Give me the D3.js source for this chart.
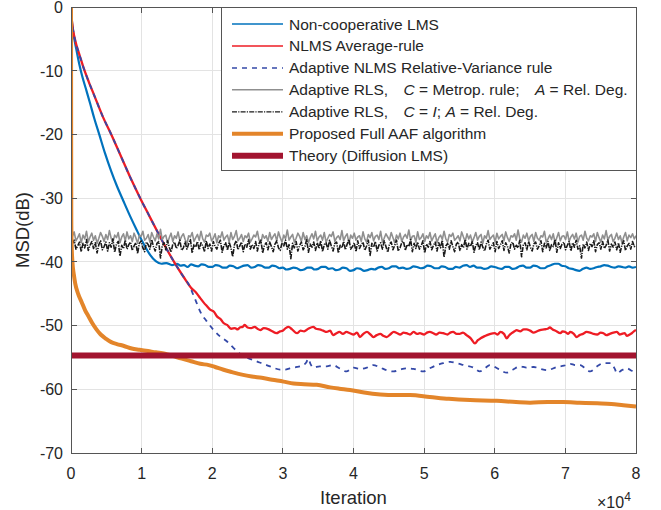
<!DOCTYPE html>
<html><head><meta charset="utf-8">
<script src="https://cdn.jsdelivr.net/npm/d3@7"></script>
<style>
body{margin:0;background:#fff}
svg{display:block}
text{font-family:"Liberation Sans",Arial,Helvetica,sans-serif;fill:#262626}
</style>
</head><body>
<svg id="chart" width="661" height="510"></svg>
<script>
// ---------- data (iteration in units of 1e4, MSD in dB) ----------
const xTicks = [0,1,2,3,4,5,6,7,8];
const yTicks = [0,-10,-20,-30,-40,-50,-60,-70];
const xTickLabels = ["0","1","2","3","4","5","6","7","8"];
const yTickLabels = ["0","-10","-20","-30","-40","-50","-60","-70"];

const legendLabels = [
  "Non-cooperative LMS",
  "NLMS Average-rule",
  "Adaptive NLMS Relative-Variance rule",
  "Adaptive RLS,   C = Metrop. rule;   A = Rel. Deg.",
  "Adaptive RLS,   C = I; A = Rel. Deg.",
  "Proposed Full AAF algorithm",
  "Theory (Diffusion LMS)"
];

const nonCoopLMS = [[0,0],[0.01,-1.8],[0.025,-3.4],[0.05,-5.2],[0.08,-6.9],[0.12,-9.1],[0.16,-10.9],[0.21,-12.8],[0.27,-15.1],[0.33,-17.5],[0.4,-20],[0.48,-22.9],[0.57,-25.8],[0.65,-28.1],[0.74,-30.4],[0.84,-32.9],[0.93,-35],[1.02,-37],[1.12,-38.9],[1.2,-39.9],[1.28,-40.3],[1.35,-40.2],[1.43,-40.5],
[1.5,-40.3],[1.55,-40.6],[1.6,-40.5],[1.65,-40.8],[1.7,-40.4],[1.75,-40.6],[1.8,-40.7],[1.85,-40.4],[1.9,-40.5],[1.95,-40.8],[2.0,-40.8],[2.05,-40.5],[2.1,-40.6],[2.15,-40.9],[2.2,-40.9],[2.25,-40.6],[2.3,-40.7],[2.35,-41.0],[2.4,-40.8],[2.45,-40.6],[2.5,-40.5],[2.55,-40.9],[2.6,-40.8],[2.65,-40.5],[2.7,-40.6],[2.75,-40.9],[2.8,-40.9],[2.85,-40.6],[2.9,-40.7],[2.95,-41.0],[3.0,-40.9],[3.05,-41.2],[3.1,-41.1],[3.15,-40.9],[3.2,-41.0],[3.25,-41.3],[3.3,-41.2],[3.35,-40.9],[3.4,-40.9],[3.45,-41.2],[3.5,-41.1],[3.55,-40.8],[3.6,-40.8],[3.65,-41.1],[3.7,-41.0],[3.75,-41.3],[3.8,-41.2],[3.85,-40.9],[3.9,-41.0],[3.95,-41.4],[4.0,-41.3],[4.05,-41.0],[4.1,-41.1],[4.15,-41.4],[4.2,-41.3],[4.25,-41.1],[4.3,-41.2],[4.35,-40.9],[4.4,-40.8],[4.45,-41.1],[4.5,-41.0],[4.55,-40.7],[4.6,-40.7],[4.65,-41.0],[4.7,-40.9],[4.75,-41.1],[4.8,-41.0],[4.85,-40.7],[4.9,-40.8],[4.95,-41.0],[5.0,-40.9],[5.05,-40.6],[5.1,-40.7],[5.15,-41.0],[5.2,-41.0],[5.25,-40.7],[5.3,-40.8],[5.35,-41.1],[5.4,-41.1],[5.45,-40.8],[5.5,-40.9],[5.55,-40.6],[5.6,-40.5],[5.65,-40.8],[5.7,-40.6],[5.75,-40.9],[5.8,-40.9],[5.85,-41.1],[5.9,-41.0],[5.95,-40.7],[6.0,-40.8],[6.05,-41.0],[6.1,-41.1],[6.15,-40.8],[6.2,-40.8],[6.25,-41.1],[6.3,-41.0],[6.35,-40.7],[6.4,-40.6],[6.45,-40.9],[6.5,-40.9],[6.55,-40.6],[6.6,-40.7],[6.65,-41.0],[6.7,-41.0],[6.75,-40.7],[6.8,-40.5],[6.85,-40.3],[6.9,-40.3],[6.95,-40.6],[7.0,-40.7],[7.05,-41.0],[7.1,-41.1],[7.15,-41.3],[7.2,-41.4],[7.25,-41.1],[7.3,-40.9],[7.35,-41.1],[7.4,-41.0],[7.45,-40.8],[7.5,-40.7],[7.55,-40.5],[7.6,-40.6],[7.65,-40.8],[7.7,-40.9],[7.75,-40.7],[7.8,-40.8],[7.85,-40.9],[7.9,-40.7],[7.95,-40.9],[8.0,-40.8]];

const nlmsAverage = [[0,0],[0.01,-1.8],[0.025,-3.3],[0.05,-4.8],[0.08,-6.1],[0.12,-7.5],[0.18,-9.6],[0.25,-11.7],[0.33,-13.9],[0.45,-17.2],[0.57,-20],[0.71,-23.5],[0.85,-27],[0.98,-30],[1.1,-32.6],[1.23,-35.4],[1.35,-37.9],[1.47,-40.2],[1.59,-42.3],[1.71,-44.2],[1.77,-44.8],[1.83,-45.7],[1.88,-46.4],[1.92,-46.9],[1.97,-47.5],[2.02,-47.8],[2.07,-48.6],[2.12,-49.0],[2.16,-49.6],[2.21,-49.9],[2.27,-50.5],[2.32,-50.4],[2.36,-50.6],[2.39,-50.3],[2.43,-50.2],[2.46,-49.9],[2.5,-50.3],[2.55,-50.4],[2.6,-50.2],[2.64,-50.5],[2.68,-50.7],[2.73,-50.4],[2.8,-50.6],[2.85,-50.9],[2.91,-51.2],[2.96,-50.9],[3.0,-50.8],[3.04,-50.4],[3.08,-50.2],[3.13,-50.6],[3.2,-51.2],[3.25,-50.8],[3.3,-50.9],[3.36,-50.5],[3.43,-50.2],[3.47,-50.5],[3.52,-50.6],[3.57,-50.8],[3.62,-51.0],[3.67,-50.8],[3.71,-51.5],[3.76,-51.2],[3.8,-51.0],[3.85,-51.3],[3.9,-51.0],[3.95,-51.2],[4.0,-51.4],[4.05,-51.1],[4.09,-51.8],[4.14,-51.3],[4.19,-51.0],[4.24,-51.4],[4.28,-51.8],[4.33,-51.5],[4.38,-51.3],[4.42,-51.6],[4.47,-51.8],[4.52,-51.4],[4.57,-51.0],[4.62,-51.2],[4.66,-51.4],[4.71,-51.1],[4.75,-51.2],[4.8,-51.4],[4.85,-51.0],[4.9,-51.3],[4.94,-51.2],[5.0,-51.4],[5.04,-51.1],[5.08,-51.0],[5.13,-51.2],[5.17,-51.4],[5.22,-51.1],[5.27,-51.2],[5.33,-51.4],[5.37,-51.1],[5.41,-51.0],[5.46,-51.3],[5.5,-51.3],[5.55,-51.1],[5.6,-51.5],[5.66,-52.0],[5.72,-52.8],[5.76,-52.3],[5.8,-52.0],[5.85,-51.7],[5.89,-51.5],[5.94,-51.3],[6.0,-51.2],[6.04,-51.4],[6.08,-51.0],[6.13,-51.3],[6.17,-52.0],[6.2,-51.6],[6.24,-51.2],[6.28,-50.9],[6.31,-50.7],[6.36,-50.9],[6.41,-50.6],[6.45,-50.6],[6.5,-50.8],[6.55,-51.1],[6.6,-50.9],[6.64,-50.7],[6.7,-50.6],[6.75,-50.5],[6.78,-50.3],[6.82,-50.6],[6.86,-50.8],[6.93,-51.2],[6.96,-50.9],[7.0,-51.0],[7.04,-51.3],[7.07,-51.0],[7.12,-51.3],[7.16,-51.8],[7.2,-51.5],[7.25,-51.3],[7.3,-51.0],[7.35,-51.1],[7.4,-51.3],[7.45,-51.4],[7.5,-51.1],[7.54,-51.2],[7.58,-51.5],[7.63,-51.3],[7.68,-51.1],[7.73,-51.0],[7.77,-51.4],[7.8,-51.3],[7.84,-51.2],[7.87,-51.6],[7.91,-51.4],[7.94,-51.2],[7.97,-50.9],[8.0,-50.7]];

const nlmsRelVar = [[0,0],[0.01,-1.8],[0.025,-3.3],[0.05,-4.8],[0.08,-6.1],[0.12,-7.5],[0.18,-9.6],[0.25,-11.7],[0.33,-13.9],[0.45,-17.2],[0.57,-20],[0.71,-23.5],[0.85,-27],[0.98,-30],[1.1,-32.6],[1.23,-35.4],[1.35,-37.9],[1.47,-40.2],[1.59,-42.3],[1.66,-43.4],[1.71,-44.6],[1.77,-46.2],[1.83,-47.8],[1.92,-49.3],[2.02,-50.7],[2.11,-51.7],[2.21,-52.5],[2.3,-53.5],[2.39,-54.4],[2.48,-55.0],[2.58,-55.4],[2.67,-55.8],[2.77,-56.2],[2.86,-56.6],[2.96,-56.9],[3.03,-56.9],[3.1,-56.7],[3.2,-56.5],[3.29,-56.2],[3.33,-55.8],[3.36,-55.2],[3.39,-56.0],[3.43,-56.6],[3.52,-56.4],[3.62,-56.4],[3.71,-56.2],[3.8,-56.7],[3.9,-57.2],[4.0,-56.6],[4.1,-56.8],[4.19,-56.6],[4.28,-56.2],[4.38,-56.6],[4.47,-57.0],[4.57,-57.2],[4.66,-56.9],[4.75,-56.7],[4.85,-56.8],[4.99,-57.2],[5.08,-56.7],[5.18,-56.2],[5.27,-55.9],[5.37,-55.7],[5.46,-55.9],[5.56,-56.2],[5.7,-56.6],[5.79,-57.2],[5.86,-56.7],[5.93,-56.2],[6.05,-56.8],[6.17,-57.4],[6.26,-56.9],[6.36,-56.4],[6.45,-56.6],[6.55,-56.5],[6.65,-56.8],[6.74,-57.0],[6.88,-56.5],[6.98,-56.3],[7.07,-56.0],[7.14,-56.2],[7.21,-56.2],[7.28,-56.7],[7.35,-57.2],[7.45,-56.4],[7.54,-55.9],[7.64,-55.9],[7.7,-56.8],[7.73,-57.5],[7.8,-57.0],[7.87,-56.7],[7.94,-57.1],[8.0,-57.4]];

// RLS curves: sampled uniformly from rlsStart to 8 (x1e4)
const rlsStart = 0.02, rlsStep = 0.02494;
const rlsMetrop = [
-36.0,-35.3,-36.7,-36.2,-35.6,-37.0,-35.8,-36.4,-35.2,-36.9,-36.1,-35.5,-36.6,-35.9,-37.1,-36.3,-35.4,-36.0,-36.8,-35.7,
-36.5,-35.1,-36.3,-36.9,-35.8,-36.2,-35.4,-37.0,-36.1,-35.6,-36.7,-35.3,-36.4,-35.9,-36.8,-35.5,-36.2,-37.1,-35.8,-36.0,
-35.2,-36.6,-36.3,-35.7,-36.9,-35.4,-36.1,-36.7,-35.6,-36.4,-34.9,-36.5,-36.0,-35.8,-37.0,-36.2,-35.5,-36.8,-35.9,-36.3,
-35.3,-36.7,-36.0,-35.6,-36.5,-37.2,-35.9,-36.1,-35.4,-36.8,-36.2,-35.7,-36.6,-35.2,-36.4,-36.9,-35.8,-36.0,-35.5,-36.7,
-36.3,-35.6,-37.0,-35.9,-36.2,-35.3,-36.6,-36.1,-35.8,-36.9,-35.4,-36.5,-36.0,-35.1,-36.7,-36.3,-35.7,-36.8,-35.9,-36.2,
-35.5,-36.9,-36.4,-35.8,-36.1,-35.2,-36.6,-37.1,-35.7,-36.3,-35.9,-36.8,-35.4,-36.5,-36.0,-35.6,-36.7,-35.3,-36.2,-36.9,
-35.8,-36.4,-35.0,-36.6,-36.1,-35.7,-36.9,-36.3,-35.5,-36.0,-36.8,-35.4,-36.5,-35.9,-37.0,-36.2,-35.6,-36.4,-35.2,-36.7,
-36.1,-35.8,-36.6,-35.4,-36.9,-36.3,-35.7,-36.0,-35.3,-36.8,-36.2,-35.9,-36.5,-35.1,-36.7,-36.0,-35.6,-37.1,-35.8,-36.3,
-35.5,-36.6,-36.1,-35.9,-36.8,-35.3,-36.4,-36.9,-35.7,-36.2,-35.4,-36.7,-36.0,-35.8,-36.5,-35.2,-36.9,-36.3,-35.6,-36.1,
-36.6,-35.4,-36.2,-37.0,-35.8,-36.4,-35.5,-36.8,-36.1,-35.7,-36.3,-35.0,-36.6,-36.0,-35.9,-36.9,-35.3,-36.5,-36.2,-35.6,
-36.8,-35.9,-36.3,-35.4,-36.7,-36.1,-35.6,-37.0,-36.2,-35.8,-36.5,-35.2,-36.4,-36.9,-35.7,-36.0,-35.5,-36.6,-36.3,-35.9,
-36.7,-35.3,-36.1,-36.8,-35.6,-36.4,-35.8,-36.9,-36.2,-35.4,-36.6,-36.0,-35.7,-37.1,-35.9,-36.3,-35.1,-36.5,-36.1,-35.8,
-36.9,-35.5,-36.4,-36.0,-35.7,-36.7,-35.3,-36.2,-36.8,-35.9,-36.1,-35.6,-36.6,-35.0,-36.4,-36.9,-35.8,-36.3,-35.5,-36.7,
-36.0,-35.7,-36.8,-35.4,-36.3,-36.6,-35.9,-36.1,-35.2,-36.9,-36.4,-35.8,-36.5,-35.6,-37.0,-36.2,-35.4,-36.7,-36.0,-35.9,
-36.5,-35.3,-36.8,-36.1,-35.7,-36.4,-35.5,-36.9,-36.0,-35.8,-36.6,-35.2,-36.3,-36.7,-35.9,-36.1,-35.6,-36.8,-35.4,-36.2,
-36.9,-35.8,-36.4,-35.1,-36.6,-36.0,-35.7,-36.8,-36.3,-35.5,-36.5,-35.9,-37.0,-36.1,-35.4,-36.7,-35.8,-36.2,-35.6,-36.4,
-35.9];
const rlsIdentity = [
-37.2,-36.6,-38.0,-37.5,-36.9,-38.4,-37.1,-37.8,-36.5,-38.2,-37.4,-36.8,-37.9,-37.0,-38.6,-37.3,-36.7,-38.1,-37.6,-36.9,
-38.3,-37.0,-37.7,-36.4,-38.5,-37.2,-36.8,-39.1,-37.4,-37.9,-36.6,-38.0,-37.3,-36.9,-38.2,-37.5,-37.0,-38.7,-37.1,-36.7,
-37.8,-38.4,-36.9,-37.3,-38.0,-36.5,-37.6,-38.3,-37.1,-36.8,-39.4,-37.5,-37.0,-38.1,-36.7,-37.7,-38.5,-37.2,-36.9,-37.9,
-37.4,-36.6,-38.2,-37.8,-36.9,-38.0,-37.2,-36.5,-38.6,-37.3,-37.7,-36.8,-38.1,-37.0,-37.5,-38.4,-36.7,-37.9,-37.2,-38.3,
-36.8,-37.6,-38.0,-37.1,-36.6,-38.5,-37.4,-37.0,-38.2,-36.9,-37.8,-39.2,-37.3,-36.7,-38.1,-37.5,-36.9,-38.4,-37.2,-37.7,
-36.5,-38.0,-37.3,-37.9,-36.8,-38.3,-37.1,-36.6,-38.6,-37.4,-37.0,-38.1,-36.9,-37.6,-38.4,-37.2,-36.7,-37.8,-38.2,-37.0,
-37.5,-36.6,-38.0,-37.3,-39.5,-37.1,-37.8,-36.8,-38.3,-37.4,-36.9,-38.1,-37.6,-36.5,-38.5,-37.2,-37.7,-36.9,-38.2,-37.0,
-37.9,-36.7,-38.4,-37.3,-37.0,-38.0,-36.6,-37.5,-38.3,-37.1,-36.9,-38.6,-37.4,-37.8,-36.8,-38.1,-37.2,-36.5,-38.0,-37.6,
-37.0,-38.4,-36.7,-37.9,-37.3,-36.9,-38.2,-37.5,-36.6,-39.0,-37.1,-37.7,-36.8,-38.3,-37.4,-37.0,-38.0,-36.7,-37.6,-38.5,
-37.2,-36.9,-38.1,-37.4,-36.6,-38.3,-37.8,-37.0,-36.8,-38.2,-37.3,-37.6,-36.5,-38.4,-37.1,-37.9,-36.9,-38.0,-37.5,-36.7,
-38.6,-37.2,-37.7,-36.8,-38.1,-37.4,-36.9,-38.3,-37.0,-37.8,-36.6,-39.3,-37.5,-37.1,-38.0,-36.7,-37.6,-38.4,-37.2,-36.9,
-38.2,-37.3,-37.8,-36.5,-38.0,-37.1,-37.6,-36.8,-38.5,-37.4,-37.0,-38.1,-36.9,-37.7,-38.3,-37.2,-36.6,-38.0,-37.5,-37.0,
-38.4,-36.8,-37.9,-37.3,-36.7,-38.2,-37.0,-37.6,-38.6,-37.1,-36.9,-38.0,-37.4,-37.8,-36.6,-39.2,-37.3,-37.0,-38.1,-36.8,
-37.7,-38.3,-37.2,-36.9,-38.0,-37.5,-36.7,-38.4,-37.1,-37.8,-36.8,-38.2,-37.3,-37.6,-36.5,-38.5,-37.0,-37.9,-37.2,-36.9,
-38.1,-37.4,-36.8,-38.3,-37.0,-37.7,-36.6,-38.0,-37.5,-39.4,-37.2,-37.8,-36.9,-38.2,-37.1,-37.6,-36.7,-38.4,-37.3,-37.0,
-38.0,-36.8,-37.9,-37.4,-36.6,-38.3,-37.2,-37.7,-36.9,-38.1,-37.0,-38.5,-37.3,-36.7,-38.2,-37.5,-37.1,-38.0,-36.8,-37.6,
-37.4];

const proposedAAF = [[0,0],[0.002,-20],[0.004,-33],[0.008,-37],[0.02,-40],[0.04,-42],[0.06,-43.4],[0.1,-45],[0.15,-46.3],[0.2,-47.6],[0.25,-48.6],[0.3,-49.6],[0.36,-50.6],[0.42,-51.4],[0.5,-52.1],[0.57,-52.6],[0.65,-52.9],[0.75,-53.2],[0.86,-53.6],[0.97,-53.8],[1.09,-54.0],[1.2,-54.2],[1.33,-54.4],[1.45,-54.8],[1.57,-55.2],[1.7,-55.6],[1.83,-56.0],[1.95,-56.2],[2.04,-56.5],[2.15,-56.9],[2.28,-57.3],[2.42,-57.7],[2.56,-58.0],[2.7,-58.2],[2.85,-58.5],[3.01,-58.8],[3.15,-59.1],[3.3,-59.2],[3.48,-59.3],[3.67,-59.7],[3.8,-59.9],[3.95,-60.1],[4.15,-60.5],[4.38,-60.8],[4.6,-60.9],[4.8,-60.9],[5.08,-61.2],[5.35,-61.5],[5.65,-61.7],[6.03,-61.8],[6.3,-62.0],[6.5,-62.1],[6.75,-62.0],[6.97,-62.0],[7.2,-62.1],[7.45,-62.2],[7.65,-62.3],[7.82,-62.5],[8.0,-62.7]];

const theoryLevel = -54.7;

// ---------- drawing ----------
const L = 71, R = 636, T = 7, B = 453;
const x = d3.scaleLinear().domain([0, 8]).range([L, R]);
const y = d3.scaleLinear().domain([-70, 0]).range([B, T]);
const svg = d3.select("#chart");

svg.append("defs").append("clipPath").attr("id","clip")
  .append("rect").attr("x",L).attr("y",T).attr("width",R-L).attr("height",B-T);

// grid
const grid = svg.append("g").attr("stroke","#e3e3e3").attr("stroke-width",1).attr("shape-rendering","crispEdges");
xTicks.slice(1,-1).forEach(t => grid.append("line").attr("x1",x(t)).attr("x2",x(t)).attr("y1",T).attr("y2",B));
yTicks.slice(1,-1).forEach(t => grid.append("line").attr("x1",L).attr("x2",R).attr("y1",y(t)).attr("y2",y(t)));

const smoothLine = d3.line().x(d => x(d[0])).y(d => y(d[1])).curve(d3.curveMonotoneX);
const rawLine = d3.line().x(d => x(d[0])).y(d => y(d[1]));
const plot = svg.append("g").attr("clip-path","url(#clip)").attr("fill","none").attr("stroke-linejoin","round");

const rlsMetropPts = rlsMetrop.map((v,i) => [rlsStart + i*rlsStep, v]);
const rlsIdentityPts = rlsIdentity.map((v,i) => [rlsStart + i*rlsStep, v]);

const styles = [
  {data: nonCoopLMS, color:"#0072bd", w:2.2, dash:null, lw:1.5, gen:smoothLine},
  {data: nlmsAverage, color:"#ee1c24", w:2.3, dash:null, lw:1.5, gen:smoothLine},
  {data: nlmsRelVar, color:"#3449a8", w:1.8, dash:"5,5", lw:1.5, gen:smoothLine},
  {data: rlsMetropPts, color:"#8f8f8f", w:1.6, dash:null, lw:1.5, gen:rawLine},
  {data: rlsIdentityPts, color:"#1a1a1a", w:1.6, dash:"5,1.2,1.2,1.2", lw:1.3, gen:rawLine},
  {data: proposedAAF, color:"#e3852a", w:4, dash:null, lw:4, gen:smoothLine},
  {data: [[0,theoryLevel],[8,theoryLevel]], color:"#a2142f", w:6, dash:null, lw:6, gen:rawLine}
];
styles.forEach(s => {
  plot.append("path").datum(s.data).attr("d", s.gen)
    .attr("stroke", s.color).attr("stroke-width", s.w)
    .attr("stroke-dasharray", s.dash);
});

// axes box
const ax = svg.append("g").attr("stroke","#555").attr("stroke-width",1).attr("fill","none").attr("shape-rendering","crispEdges");
ax.append("rect").attr("x",L).attr("y",T).attr("width",R-L).attr("height",B-T);
const tl = 5.5;
xTicks.forEach(t => {
  ax.append("line").attr("x1",x(t)).attr("x2",x(t)).attr("y1",B).attr("y2",B-tl);
  ax.append("line").attr("x1",x(t)).attr("x2",x(t)).attr("y1",T).attr("y2",T+tl);
});
yTicks.forEach(t => {
  ax.append("line").attr("x1",L).attr("x2",L+tl).attr("y1",y(t)).attr("y2",y(t));
  ax.append("line").attr("x1",R).attr("x2",R-tl).attr("y1",y(t)).attr("y2",y(t));
});

// tick labels
xTicks.forEach((t,i) => svg.append("text").attr("x",x(t)).attr("y",478.5)
  .attr("text-anchor","middle").attr("font-size",16).text(xTickLabels[i]));
yTicks.forEach((t,i) => svg.append("text").attr("x",63).attr("y",y(t)+5.8)
  .attr("text-anchor","end").attr("font-size",16).text(yTickLabels[i]));

// axis labels
svg.append("text").attr("x",(L+R)/2).attr("y",503.5).attr("text-anchor","middle")
  .attr("font-size",18.5).text("Iteration");
svg.append("text").attr("transform",`translate(29,${(T+B)/2}) rotate(-90)`)
  .attr("text-anchor","middle").attr("font-size",18.5).text("MSD(dB)");
const mult = svg.append("text").attr("x",597).attr("y",508).attr("font-size",16);
mult.append("tspan").text("\u00d710");
mult.append("tspan").attr("font-size",12).attr("dy",-7).text("4");

// legend
const lg = svg.append("g");
lg.append("rect").attr("x",221).attr("y",T).attr("width",R-221).attr("height",163)
  .attr("fill","#fff").attr("stroke","#555").attr("stroke-width",1).attr("shape-rendering","crispEdges");
const rowY = i => 24 + i*21.95;
styles.forEach((s,i) => {
  lg.append("line").attr("x1",232).attr("x2",283).attr("y1",rowY(i)).attr("y2",rowY(i))
    .attr("stroke",s.color).attr("stroke-width",s.lw).attr("stroke-dasharray",s.dash);
});
function legendText(i, parts){
  const t = lg.append("text").attr("x",289).attr("y",rowY(i)+5.5).attr("font-size",15.5);
  parts.forEach(p => t.append("tspan").attr("font-style", p[1] ? "italic" : null).text(p[0]));
}
legendText(0, [[legendLabels[0]]]);
legendText(1, [[legendLabels[1]]]);
legendText(2, [[legendLabels[2]]]);
legendText(3, [["Adaptive RLS,\u2002\u2002"],["C",1],[" = Metrop. rule;\u2002\u2002"],["A",1],[" = Rel. Deg."]]);
legendText(4, [["Adaptive RLS,\u2002\u2002"],["C",1],[" = "],["I",1],["; "],["A",1],[" = Rel. Deg."]]);
legendText(5, [[legendLabels[5]]]);
legendText(6, [[legendLabels[6]]]);
</script>
</body></html>
